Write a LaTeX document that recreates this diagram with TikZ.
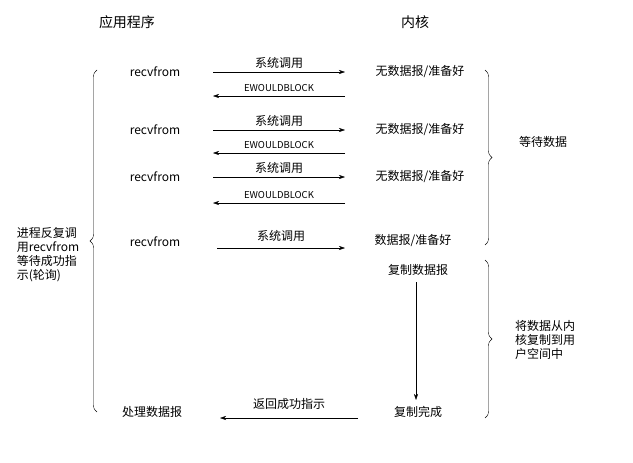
\documentclass[tikz,border=0pt]{standalone}
\usepackage{fontspec}
\setmainfont{Noto Sans CJK SC}
\usetikzlibrary{arrows.meta,decorations.pathreplacing}
\tikzset{
  lbl/.style={font=\fontsize{12}{14}\selectfont},
  sm/.style={font=\fontsize{9.5}{11}\selectfont},
  call/.style={-{Stealth[length=6pt,width=4pt]},thin},
  brc/.style={decorate,decoration={brace,amplitude=7pt},thin}
}
\begin{document}
\begin{tikzpicture}[x=1pt,y=-1pt]
\useasboundingbox[fill=white] (0,0) rectangle (633,463);
\node[font=\fontsize{14}{16}\selectfont] (app) at (127,22) {应用程序};
\node[font=\fontsize{14}{16}\selectfont] (kern) at (415,22) {内核};
% polling rounds
\foreach \i/\y/\yb in {1/72/96,2/130/153,3/177/203} {
  \node[lbl] (r\i) at (155,\y) {recvfrom};
  \node[lbl] (k\i) at (420,\y) {无数据报/准备好};
  \coordinate (a\i) at (213,\y); \coordinate (b\i) at (345,\y);
  \coordinate (c\i) at (345,\yb); \coordinate (d\i) at (213,\yb);
  \draw[call] (a\i) -- node[lbl,above=0pt] {系统调用} (b\i);
  \draw[call] (c\i) -- node[sm,above=1pt] {EWOULDBLOCK} (d\i);
}
\node[lbl] (r4) at (155,242) {recvfrom};
\node[lbl] (k4) at (413,241) {数据报/准备好};
\coordinate (a4) at (217,248); \coordinate (b4) at (345,248);
\draw[call] (a4) -- node[lbl,above=3pt] {系统调用} (b4);
\node[lbl] (cp) at (418,270) {复制数据报};
\node[lbl] (done) at (418,412) {复制完成};
\node[lbl] (proc) at (152,412) {处理数据报};
\coordinate (v1) at (416,282); \coordinate (v2) at (416,400);
\draw[call] (v1) -- (v2);
\coordinate (e1) at (358,418); \coordinate (e2) at (220,418);
\draw[call] (e1) -- node[lbl,above=5pt] {返回成功指示} (e2);
% braces
\draw[brc] (97,412) -- (97,70);
\node[lbl,align=left] (poll) at (48,255) {进程反复调\\用recvfrom\\等待成功指\\示(轮询)};
\draw[brc] (485,70) -- (485,245);
\node[lbl] (wait) at (543,142) {等待数据};
\draw[brc] (485,260) -- (485,418);
\node[lbl,align=left] (copy) at (545,340) {将数据从内\\核复制到用\\户空间中};
\end{tikzpicture}
\end{document}
